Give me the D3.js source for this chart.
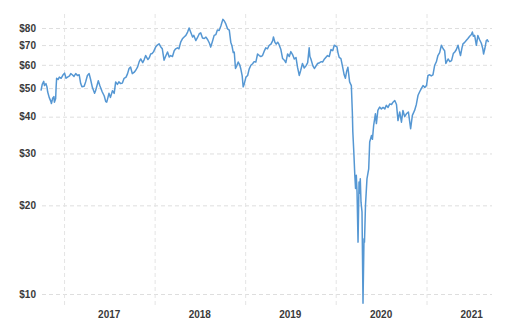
<!DOCTYPE html>
<html>
<head>
<meta charset="utf-8">
<script src="https://cdn.jsdelivr.net/npm/d3@7"></script>
<style>
  body { margin: 0; background: #fff; }
  svg { display: block; }
  .tick text { font-family: "Liberation Sans", Arial, sans-serif; font-size: 10px; font-weight: bold; fill: #3a3a3a; }
  .year-label { font-family: "Liberation Sans", Arial, sans-serif; font-size: 10px; font-weight: bold; fill: #3a3a3a; }
</style>
</head>
<body>
<div id="chart"></div>
<script>
// Brent crude, prix journalier (lecture du graphique) - ["MM-DD", prix]
const prices2016 = [
    ["09-30", 49.0], ["10-05", 51.5], ["10-11", 52.7], ["10-14", 51.0], ["10-20", 51.8],
    ["10-24", 50.5], ["10-27", 48.5], ["11-02", 46.5], ["11-09", 45.0], ["11-11", 44.3],
    ["11-16", 46.2], ["11-21", 46.8], ["11-23", 44.8], ["11-28", 46.0], ["11-30", 50.5],
    ["12-02", 54.0], ["12-08", 53.5], ["12-13", 54.5], ["12-20", 54.0], ["12-28", 55.5]
];
const prices2017 = [
    ["01-03", 56.2], ["01-09", 54.0], ["01-15", 54.5], ["01-23", 55.0], ["01-28", 56.0],
    ["02-03", 55.5], ["02-10", 54.8], ["02-17", 56.0], ["02-24", 55.2], ["03-03", 55.5],
    ["03-09", 51.8], ["03-14", 50.5], ["03-23", 50.7], ["03-29", 52.5], ["04-05", 55.2],
    ["04-12", 56.0], ["04-18", 53.5], ["04-25", 50.3], ["05-04", 48.0], ["05-08", 49.0],
    ["05-15", 51.5], ["05-19", 53.0], ["05-25", 51.0], ["06-04", 48.5], ["06-12", 47.0],
    ["06-18", 45.0], ["06-22", 44.8], ["06-27", 46.5], ["07-01", 48.0], ["07-07", 46.5],
    ["07-15", 49.0], ["07-22", 48.0], ["07-28", 52.5], ["08-04", 51.5], ["08-10", 52.5],
    ["08-17", 51.8], ["08-24", 52.0], ["08-31", 54.0], ["09-08", 54.5], ["09-14", 56.0],
    ["09-20", 58.3], ["09-26", 59.0], ["10-03", 56.0], ["10-10", 56.5], ["10-17", 57.5],
    ["10-24", 58.9], ["10-31", 61.5], ["11-06", 62.8], ["11-14", 61.0], ["11-20", 62.5],
    ["11-26", 64.5], ["12-05", 62.5], ["12-11", 63.5], ["12-16", 65.3], ["12-22", 65.5],
    ["12-28", 66.5]
];
const prices2018 = [
    ["01-05", 68.9], ["01-12", 70.0], ["01-19", 70.7], ["01-26", 69.0], ["02-01", 68.0],
    ["02-08", 62.2], ["02-14", 64.0], ["02-22", 66.3], ["03-01", 63.8], ["03-07", 64.5],
    ["03-14", 64.0], ["03-21", 67.0], ["03-27", 68.0], ["04-03", 68.5], ["04-09", 68.0],
    ["04-16", 71.6], ["04-23", 73.5], ["04-30", 74.6], ["05-07", 75.5], ["05-14", 77.5],
    ["05-20", 80.0], ["05-25", 78.0], ["06-03", 74.6], ["06-08", 75.5], ["06-16", 72.5],
    ["06-22", 74.0], ["06-30", 76.5], ["07-06", 77.0], ["07-13", 74.0], ["07-20", 73.7],
    ["07-27", 74.5], ["08-03", 73.0], ["08-10", 71.0], ["08-15", 68.9], ["08-22", 72.0],
    ["08-29", 75.5], ["09-05", 76.0], ["09-11", 78.7], ["09-18", 78.5], ["09-25", 81.3],
    ["10-03", 85.6], ["10-09", 84.5], ["10-15", 82.6], ["10-22", 79.5], ["10-29", 78.7],
    ["11-04", 71.6], ["11-09", 69.5], ["11-14", 66.0], ["11-18", 66.3], ["11-23", 58.3],
    ["11-28", 59.5], ["12-04", 61.3], ["12-10", 60.0], ["12-14", 58.3], ["12-20", 55.0],
    ["12-24", 50.5], ["12-28", 51.5]
];
const prices2019 = [
    ["01-04", 54.5], ["01-11", 55.2], ["01-17", 58.0], ["01-24", 59.8], ["01-31", 60.5],
    ["02-06", 61.5], ["02-13", 61.3], ["02-20", 65.3], ["02-27", 64.5], ["03-05", 64.0],
    ["03-12", 64.5], ["03-18", 66.5], ["03-25", 68.5], ["04-01", 68.0], ["04-08", 69.9],
    ["04-15", 70.5], ["04-22", 72.5], ["04-25", 74.6], ["05-01", 71.5], ["05-06", 70.5],
    ["05-12", 71.6], ["05-17", 70.5], ["05-25", 67.6], ["06-01", 63.0], ["06-08", 62.2],
    ["06-14", 61.0], ["06-21", 65.3], ["06-28", 64.0], ["07-04", 66.5], ["07-11", 65.0],
    ["07-18", 62.8], ["07-25", 63.5], ["07-31", 58.9], ["08-07", 55.2], ["08-13", 57.5],
    ["08-20", 60.6], ["08-27", 58.5], ["09-03", 59.5], ["09-10", 61.0], ["09-16", 68.5],
    ["09-19", 64.0], ["09-23", 62.8], ["10-01", 59.5], ["10-07", 58.3], ["10-14", 59.5],
    ["10-20", 60.6], ["10-28", 61.0], ["11-04", 61.5], ["11-09", 61.3], ["11-15", 62.5],
    ["11-22", 63.5], ["11-29", 64.5], ["12-06", 64.0], ["12-13", 67.6], ["12-20", 67.0],
    ["12-26", 69.9]
];
const prices2020 = [
    ["01-06", 69.0], ["01-10", 66.0], ["01-15", 63.6], ["01-22", 63.0], ["01-29", 58.9],
    ["02-04", 55.5], ["02-09", 54.0], ["02-14", 57.0], ["02-19", 58.9], ["02-26", 52.5],
    ["03-04", 51.0], ["03-08", 41.5], ["03-10", 35.5], ["03-14", 30.3], ["03-18", 25.3],
    ["03-21", 22.8], ["03-24", 25.3], ["03-27", 22.2], ["03-31", 15.0], ["04-04", 24.0],
    ["04-06", 22.0], ["04-09", 24.6], ["04-12", 20.5], ["04-16", 19.0], ["04-20", 9.3],
    ["04-24", 15.4], ["04-26", 15.0], ["04-30", 20.0], ["05-06", 24.6], ["05-13", 26.6],
    ["05-17", 32.8], ["05-24", 34.5], ["05-28", 33.5], ["06-02", 37.4], ["06-09", 40.9],
    ["06-13", 37.9], ["06-19", 42.0], ["06-26", 43.1], ["07-03", 42.5], ["07-10", 43.0],
    ["07-17", 42.5], ["07-23", 43.7], ["07-30", 43.0], ["08-06", 44.2], ["08-13", 44.0],
    ["08-19", 44.8], ["08-26", 45.4], ["09-02", 44.0], ["09-08", 38.8], ["09-15", 41.5],
    ["09-22", 38.3], ["09-28", 42.0], ["10-05", 40.0], ["10-12", 40.9], ["10-20", 41.5],
    ["10-29", 36.4], ["11-05", 40.4], ["11-14", 42.0], ["11-21", 44.0], ["11-28", 47.3],
    ["12-04", 48.5], ["12-11", 49.8], ["12-18", 51.0], ["12-25", 50.3]
];
const prices2021 = [
    ["01-01", 51.0], ["01-07", 55.2], ["01-14", 55.5], ["01-20", 55.0], ["01-27", 55.5],
    ["02-03", 59.8], ["02-10", 61.5], ["02-16", 64.5], ["02-23", 66.0], ["03-02", 69.9],
    ["03-09", 68.0], ["03-15", 67.0], ["03-20", 60.6], ["03-29", 62.8], ["04-05", 61.5],
    ["04-12", 62.0], ["04-19", 65.5], ["04-25", 66.3], ["05-01", 67.5], ["05-08", 69.9],
    ["05-13", 67.0], ["05-18", 64.5], ["05-24", 68.5], ["05-28", 70.7], ["06-04", 71.5],
    ["06-10", 72.5], ["06-17", 73.7], ["06-24", 75.0], ["07-01", 76.0], ["07-05", 77.5],
    ["07-09", 75.0], ["07-14", 75.5], ["07-21", 69.9], ["07-27", 75.5], ["08-03", 73.0],
    ["08-10", 71.0], ["08-16", 68.0], ["08-19", 65.3], ["08-24", 68.0], ["08-30", 72.5],
    ["09-03", 73.0], ["09-08", 71.6]
];

const yTicks = [10, 20, 30, 40, 50, 60, 70, 80];
const yearLabels = ["2017", "2018", "2019", "2020", "2021"];

const parseDate = d3.timeParse("%Y-%m-%d");
const series = [
    [2016, prices2016], [2017, prices2017], [2018, prices2018],
    [2019, prices2019], [2020, prices2020], [2021, prices2021]
].flatMap(([year, rows]) => rows.map(([md, price]) => ({
    date: parseDate(`${year}-${md}`),
    price: price
})));

const width = 522;
const height = 323;
const margin = { top: 14, right: 30, bottom: 18, left: 42 };
const plotRight = 492;
const plotBottom = 305;

const svg = d3.select('#chart')
    .append('svg')
    .attr('width', width)
    .attr('height', height);

// Echelles
const xScale = d3.scaleTime()
    .domain([parseDate("2016-09-30"), parseDate("2021-09-22")])
    .range([41, plotRight]);

const yScale = d3.scaleLog()
    .domain([10, 80])
    .range([294, 28]);

// Grille horizontale + labels $
const yAxis = d3.axisLeft(yScale)
    .tickValues(yTicks)
    .tickFormat(d => `$${d}`)
    .tickSize(-(plotRight - margin.left))
    .tickPadding(6);

svg.append('g')
    .attr('transform', `translate(${margin.left},0)`)
    .call(yAxis)
    .call(g => g.select('.domain').remove())
    .call(g => g.selectAll('.tick line')
        .attr('stroke', '#dedede')
        .attr('stroke-dasharray', '4,3'));

// Grille verticale (debut de chaque annee)
const xAxis = d3.axisBottom(xScale)
    .tickValues(yearLabels.map(y => parseDate(`${y}-01-01`)))
    .tickFormat('')
    .tickSize(-(plotBottom - margin.top));

svg.append('g')
    .attr('transform', `translate(0,${plotBottom})`)
    .call(xAxis)
    .call(g => g.select('.domain').remove())
    .call(g => g.selectAll('.tick line')
        .attr('stroke', '#e4e4e4')
        .attr('stroke-dasharray', '4,3'));

// Labels des annees, centres au milieu de l'annee
svg.selectAll('.year-label')
    .data(yearLabels)
    .enter()
    .append('text')
    .attr('class', 'year-label')
    .attr('x', d => xScale(parseDate(`${d}-07-02`)))
    .attr('y', 318)
    .attr('text-anchor', 'middle')
    .text(d => d);

// Courbe
const line = d3.line()
    .x(d => xScale(d.date))
    .y(d => yScale(d.price));

svg.append('path')
    .datum(series)
    .attr('fill', 'none')
    .attr('stroke', '#5597d3')
    .attr('stroke-width', 1.5)
    .attr('stroke-linejoin', 'round')
    .attr('d', line);
</script>
</body>
</html>
